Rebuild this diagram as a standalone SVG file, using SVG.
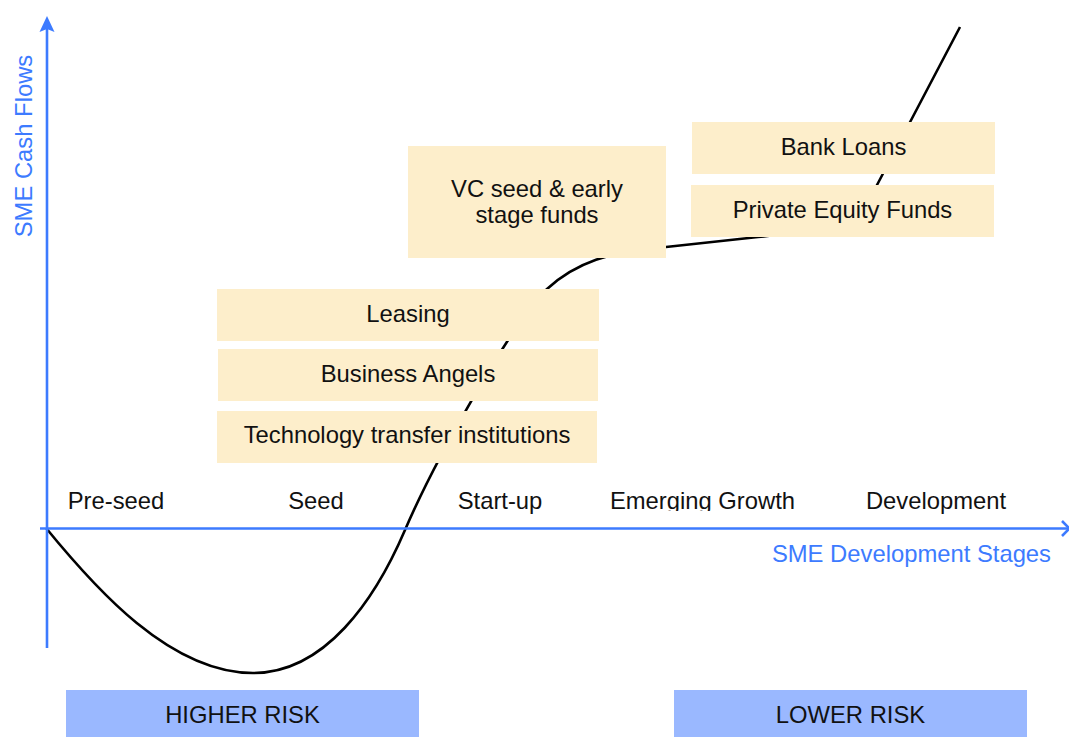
<svg xmlns="http://www.w3.org/2000/svg" width="1069" height="737" viewBox="0 0 1069 737">
  <style>
    text { font-family: "Liberation Sans", Arial, sans-serif; font-size: 23.8px; fill: #111; }
    .axis { stroke: #3d7bff; stroke-width: 2.6; fill: none; }
    .axis-label { fill: #3d7bff; }
    .fund { fill: #fdeecb; }
    .risk { fill: #9ab8ff; }
    .curve { stroke: #000; stroke-width: 2.6; fill: none; }
    .mid { text-anchor: middle; }
  </style>
  <defs>
    <clipPath id="stage-clip">
      <rect x="590" y="470" width="240" height="41"/>
    </clipPath>
  </defs>

  <rect width="1069" height="737" fill="#fff"/>

  <!-- cash-flow curve (J-curve) -->
  <g id="connectors">
    <path class="curve" d="M46,528 C95,588 170,673 253,673 C325,673 375,600 405,530 C435,460 515,318 547,289 C575,263 610,251 666,247 L758,237 C800,233 860,217 877,185 L960,27"/>
  </g>

  <!-- axes -->
  <g id="axes">
    <line class="axis" x1="47" y1="648" x2="47" y2="26"/>
    <path d="M47,16 L54.5,32 L47,29 L39.5,32 Z" fill="#3d7bff"/>
    <line class="axis" x1="40" y1="528.5" x2="1068" y2="528.5"/>
    <path class="axis" d="M1062,521 L1069.5,528.5 L1062,536"/>
    <text class="axis-label" transform="translate(32,146) rotate(-90)" text-anchor="middle">SME Cash Flows</text>
    <text class="axis-label" x="1051" y="562" text-anchor="end">SME Development Stages</text>
  </g>

  <!-- development stages -->
  <g id="stages">
    <text class="mid" x="116" y="509">Pre-seed</text>
    <text class="mid" x="316" y="509">Seed</text>
    <text class="mid" x="500" y="509">Start-up</text>
    <text class="mid" x="702.5" y="509" clip-path="url(#stage-clip)">Emerging Growth</text>
    <text class="mid" x="936" y="509">Development</text>
  </g>

  <!-- funding sources -->
  <g id="vc-funds">
    <rect class="fund" x="408" y="146" width="258" height="112"/>
    <text class="mid" x="537" y="197">VC seed &amp; early</text>
    <text class="mid" x="537" y="223">stage funds</text>
  </g>
  <g id="bank-loans">
    <rect class="fund" x="692" y="122" width="303" height="52"/>
    <text class="mid" x="843.5" y="155">Bank Loans</text>
  </g>
  <g id="private-equity">
    <rect class="fund" x="691" y="185" width="303" height="52"/>
    <text class="mid" x="842.5" y="218">Private Equity Funds</text>
  </g>
  <g id="leasing">
    <rect class="fund" x="217" y="289" width="382" height="52"/>
    <text class="mid" x="408" y="322">Leasing</text>
  </g>
  <g id="business-angels">
    <rect class="fund" x="218" y="349" width="380" height="52"/>
    <text class="mid" x="408" y="382">Business Angels</text>
  </g>
  <g id="tech-transfer">
    <rect class="fund" x="217" y="411" width="380" height="52"/>
    <text class="mid" x="407" y="443">Technology transfer institutions</text>
  </g>

  <!-- risk bands -->
  <g id="higher-risk">
    <rect class="risk" x="66" y="690" width="353" height="47"/>
    <text class="mid" x="242.5" y="723">HIGHER RISK</text>
  </g>
  <g id="lower-risk">
    <rect class="risk" x="674" y="690" width="353" height="47"/>
    <text class="mid" x="850.5" y="723">LOWER RISK</text>
  </g>
</svg>
